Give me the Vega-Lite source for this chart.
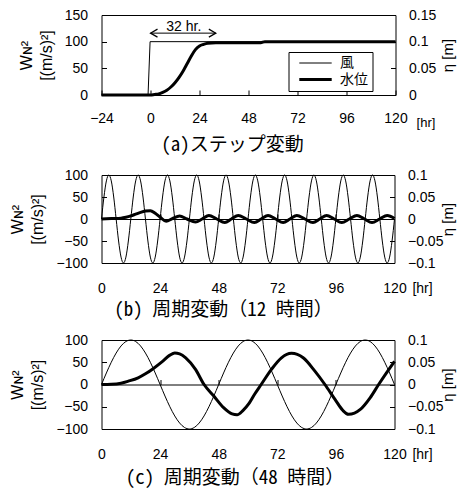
{
  "$schema": "https://vega.github.io/schema/vega-lite/v6.json",
  "background": "white",
  "padding": {"left": 8.5, "right": 5, "top": 7, "bottom": 0},
  "spacing": 11,
  "config": {
    "view": {"stroke": "black", "strokeWidth": 1},
    "axis": {
      "grid": false, "domain": false,
      "labelFont": "Liberation Sans", "labelFontSize": 14, "labelColor": "black",
      "tickColor": "black", "tickSize": -5, "labelOverlap": false,
      "titleFont": "Liberation Sans", "titleFontWeight": "normal", "titleColor": "black", "titleFontSize": 14
    },
    "title": {"font": "Noto Sans Mono CJK JP, Noto Sans CJK JP", "fontSize": 19, "fontWeight": "normal", "color": "black", "orient": "bottom", "anchor": "middle", "offset": 5}
  },
  "datasets": {
    "aw": [{"t": -24, "w": 0}, {"t": -1.2, "w": 0}, {"t": -0.2, "w": 100}, {"t": 120, "w": 100}],
    "ah": [{"t": -24, "h": 0}, {"t": 0, "h": 0}, {"t": 2, "h": 0.001}, {"t": 4, "h": 0.002}, {"t": 6, "h": 0.005}, {"t": 8, "h": 0.009}, {"t": 10, "h": 0.015}, {"t": 12, "h": 0.023}, {"t": 14, "h": 0.033}, {"t": 16, "h": 0.045}, {"t": 18, "h": 0.059}, {"t": 20, "h": 0.073}, {"t": 22, "h": 0.085}, {"t": 24, "h": 0.092}, {"t": 26, "h": 0.095}, {"t": 28, "h": 0.097}, {"t": 32, "h": 0.098}, {"t": 40, "h": 0.098}, {"t": 54, "h": 0.098}, {"t": 56, "h": 0.1}, {"t": 120, "h": 0.1}],
    "atext": [{"t": 16.3, "y": 120, "label": "32 hr."}],
    "arule": [{"t0": 0, "t1": 32, "y": 116}],
    "ahead": [{"t": 0, "y": 116, "dir": "L"}, {"t": 32, "y": 116, "dir": "R"}],
    "bw": [
      {"t": 0, "w": 0}, {"t": 1, "w": 50}, {"t": 2, "w": 86.6}, {"t": 3, "w": 100}, {"t": 4, "w": 86.6}, {"t": 5, "w": 50}, {"t": 6, "w": 0}, {"t": 7, "w": -50}, {"t": 8, "w": -86.6}, {"t": 9, "w": -100}, {"t": 10, "w": -86.6}, {"t": 11, "w": -50},
      {"t": 12, "w": 0}, {"t": 13, "w": 50}, {"t": 14, "w": 86.6}, {"t": 15, "w": 100}, {"t": 16, "w": 86.6}, {"t": 17, "w": 50}, {"t": 18, "w": 0}, {"t": 19, "w": -50}, {"t": 20, "w": -86.6}, {"t": 21, "w": -100}, {"t": 22, "w": -86.6}, {"t": 23, "w": -50},
      {"t": 24, "w": 0}, {"t": 25, "w": 50}, {"t": 26, "w": 86.6}, {"t": 27, "w": 100}, {"t": 28, "w": 86.6}, {"t": 29, "w": 50}, {"t": 30, "w": 0}, {"t": 31, "w": -50}, {"t": 32, "w": -86.6}, {"t": 33, "w": -100}, {"t": 34, "w": -86.6}, {"t": 35, "w": -50},
      {"t": 36, "w": 0}, {"t": 37, "w": 50}, {"t": 38, "w": 86.6}, {"t": 39, "w": 100}, {"t": 40, "w": 86.6}, {"t": 41, "w": 50}, {"t": 42, "w": 0}, {"t": 43, "w": -50}, {"t": 44, "w": -86.6}, {"t": 45, "w": -100}, {"t": 46, "w": -86.6}, {"t": 47, "w": -50},
      {"t": 48, "w": 0}, {"t": 49, "w": 50}, {"t": 50, "w": 86.6}, {"t": 51, "w": 100}, {"t": 52, "w": 86.6}, {"t": 53, "w": 50}, {"t": 54, "w": 0}, {"t": 55, "w": -50}, {"t": 56, "w": -86.6}, {"t": 57, "w": -100}, {"t": 58, "w": -86.6}, {"t": 59, "w": -50},
      {"t": 60, "w": 0}, {"t": 61, "w": 50}, {"t": 62, "w": 86.6}, {"t": 63, "w": 100}, {"t": 64, "w": 86.6}, {"t": 65, "w": 50}, {"t": 66, "w": 0}, {"t": 67, "w": -50}, {"t": 68, "w": -86.6}, {"t": 69, "w": -100}, {"t": 70, "w": -86.6}, {"t": 71, "w": -50},
      {"t": 72, "w": 0}, {"t": 73, "w": 50}, {"t": 74, "w": 86.6}, {"t": 75, "w": 100}, {"t": 76, "w": 86.6}, {"t": 77, "w": 50}, {"t": 78, "w": 0}, {"t": 79, "w": -50}, {"t": 80, "w": -86.6}, {"t": 81, "w": -100}, {"t": 82, "w": -86.6}, {"t": 83, "w": -50},
      {"t": 84, "w": 0}, {"t": 85, "w": 50}, {"t": 86, "w": 86.6}, {"t": 87, "w": 100}, {"t": 88, "w": 86.6}, {"t": 89, "w": 50}, {"t": 90, "w": 0}, {"t": 91, "w": -50}, {"t": 92, "w": -86.6}, {"t": 93, "w": -100}, {"t": 94, "w": -86.6}, {"t": 95, "w": -50},
      {"t": 96, "w": 0}, {"t": 97, "w": 50}, {"t": 98, "w": 86.6}, {"t": 99, "w": 100}, {"t": 100, "w": 86.6}, {"t": 101, "w": 50}, {"t": 102, "w": 0}, {"t": 103, "w": -50}, {"t": 104, "w": -86.6}, {"t": 105, "w": -100}, {"t": 106, "w": -86.6}, {"t": 107, "w": -50},
      {"t": 108, "w": 0}, {"t": 109, "w": 50}, {"t": 110, "w": 86.6}, {"t": 111, "w": 100}, {"t": 112, "w": 86.6}, {"t": 113, "w": 50}, {"t": 114, "w": 0}, {"t": 115, "w": -50}, {"t": 116, "w": -86.6}, {"t": 117, "w": -100}, {"t": 118, "w": -86.6}, {"t": 119, "w": -50},
      {"t": 120, "w": 0}
    ],
    "bh": [
      {"t": 0, "h": 0}, {"t": 4, "h": 0.001}, {"t": 8, "h": 0.002}, {"t": 10, "h": 0.004}, {"t": 12, "h": 0.007}, {"t": 14, "h": 0.011}, {"t": 16, "h": 0.015}, {"t": 18, "h": 0.018}, {"t": 20, "h": 0.019}, {"t": 22, "h": 0.013}, {"t": 24, "h": 0.004}, {"t": 26.5, "h": -0.005}, {"t": 29, "h": 0.001}, {"t": 32, "h": 0.007},
      {"t": 35, "h": 0}, {"t": 38.5, "h": -0.007}, {"t": 41.2, "h": 0}, {"t": 44, "h": 0.008}, {"t": 47.2, "h": 0}, {"t": 50.5, "h": -0.008}, {"t": 53.2, "h": 0}, {"t": 56, "h": 0.008}, {"t": 59.3, "h": 0}, {"t": 62.6, "h": -0.008}, {"t": 65.4, "h": 0}, {"t": 68.2, "h": 0.008},
      {"t": 71.3, "h": 0}, {"t": 74.4, "h": -0.008}, {"t": 77.2, "h": 0}, {"t": 80, "h": 0.008}, {"t": 83.3, "h": 0}, {"t": 86.6, "h": -0.008}, {"t": 89.4, "h": 0}, {"t": 92.2, "h": 0.008}, {"t": 95.3, "h": 0}, {"t": 98.4, "h": -0.008}, {"t": 101.5, "h": 0}, {"t": 104.6, "h": 0.008},
      {"t": 107.7, "h": 0}, {"t": 110.8, "h": -0.008}, {"t": 113.9, "h": 0}, {"t": 117, "h": 0.008}, {"t": 120, "h": 0.001}
    ],
    "cw": [
      {"t": 0, "w": 0}, {"t": 2, "w": 25.9}, {"t": 4, "w": 50}, {"t": 6, "w": 70.7}, {"t": 8, "w": 86.6}, {"t": 10, "w": 96.6}, {"t": 12, "w": 100}, {"t": 14, "w": 96.6}, {"t": 16, "w": 86.6}, {"t": 18, "w": 70.7}, {"t": 20, "w": 50}, {"t": 22, "w": 25.9},
      {"t": 24, "w": 0}, {"t": 26, "w": -25.9}, {"t": 28, "w": -50}, {"t": 30, "w": -70.7}, {"t": 32, "w": -86.6}, {"t": 34, "w": -96.6}, {"t": 36, "w": -100}, {"t": 38, "w": -96.6}, {"t": 40, "w": -86.6}, {"t": 42, "w": -70.7}, {"t": 44, "w": -50}, {"t": 46, "w": -25.9},
      {"t": 48, "w": 0}, {"t": 50, "w": 25.9}, {"t": 52, "w": 50}, {"t": 54, "w": 70.7}, {"t": 56, "w": 86.6}, {"t": 58, "w": 96.6}, {"t": 60, "w": 100}, {"t": 62, "w": 96.6}, {"t": 64, "w": 86.6}, {"t": 66, "w": 70.7}, {"t": 68, "w": 50}, {"t": 70, "w": 25.9},
      {"t": 72, "w": 0}, {"t": 74, "w": -25.9}, {"t": 76, "w": -50}, {"t": 78, "w": -70.7}, {"t": 80, "w": -86.6}, {"t": 82, "w": -96.6}, {"t": 84, "w": -100}, {"t": 86, "w": -96.6}, {"t": 88, "w": -86.6}, {"t": 90, "w": -70.7}, {"t": 92, "w": -50}, {"t": 94, "w": -25.9},
      {"t": 96, "w": 0}, {"t": 98, "w": 25.9}, {"t": 100, "w": 50}, {"t": 102, "w": 70.7}, {"t": 104, "w": 86.6}, {"t": 106, "w": 96.6}, {"t": 108, "w": 100}, {"t": 110, "w": 96.6}, {"t": 112, "w": 86.6}, {"t": 114, "w": 70.7}, {"t": 116, "w": 50}, {"t": 118, "w": 25.9},
      {"t": 120, "w": 0}
    ],
    "ch": [
      {"t": 0, "h": 0}, {"t": 4, "h": 0.0005}, {"t": 8, "h": 0.003}, {"t": 11, "h": 0.0075}, {"t": 15, "h": 0.015}, {"t": 18, "h": 0.024}, {"t": 21, "h": 0.035}, {"t": 25, "h": 0.052}, {"t": 28, "h": 0.066}, {"t": 30, "h": 0.071}, {"t": 32, "h": 0.069},
      {"t": 34.5, "h": 0.06}, {"t": 38.5, "h": 0.034}, {"t": 42, "h": 0}, {"t": 46, "h": -0.026}, {"t": 50, "h": -0.052}, {"t": 53.5, "h": -0.066}, {"t": 55.5, "h": -0.068}, {"t": 58, "h": -0.058}, {"t": 60.5, "h": -0.042}, {"t": 62.7, "h": -0.022},
      {"t": 65.4, "h": 0}, {"t": 69.6, "h": 0.034}, {"t": 73.7, "h": 0.06}, {"t": 77.8, "h": 0.07}, {"t": 82.6, "h": 0.06}, {"t": 87.4, "h": 0.03}, {"t": 91.5, "h": 0}, {"t": 95.7, "h": -0.034}, {"t": 98.8, "h": -0.058}, {"t": 101.2, "h": -0.067},
      {"t": 106, "h": -0.056}, {"t": 110, "h": -0.03}, {"t": 113.5, "h": 0}, {"t": 117.7, "h": 0.034}, {"t": 120, "h": 0.052}
    ]
  },
  "vconcat": [
    {
      "width": 294, "height": 80,
      "title": {"text": "(a)ステップ変動", "dx": -16, "offset": 7},
      "layer": [
        {
          "data": {"name": "aw"},
          "mark": {"type": "line", "color": "black"},
          "encoding": {
            "x": {"field": "t", "type": "quantitative", "scale": {"domain": [-24, 120], "nice": false},
              "axis": {"values": [-24, 0, 24, 48, 72, 96, 120], "labelPadding": 21, "title": "[hr]", "titleX": 324, "titleY": 27, "titleAlign": "center", "titleBaseline": "middle", "titleAngle": 0, "titleFontSize": 13, "labelFlush": false}},
            "y": {"field": "w", "type": "quantitative", "scale": {"domain": [0, 150], "nice": false},
              "axis": {"orient": "left", "values": [0, 50, 100, 150], "labelPadding": 19, "title": ["Wɴ²", "[(m/s)²]"], "titlePadding": 10, "titleFontSize": 16, "titleLineHeight": 20}},
            "strokeWidth": {"datum": "風", "type": "nominal", "scale": {"domain": ["風", "水位"], "range": [1, 3]},
              "legend": {"title": null, "orient": "none", "legendX": 187, "legendY": 37, "strokeColor": "black", "fillColor": "white", "padding": 4, "symbolType": "M -2.7 0 L 2.7 0", "symbolSize": 144, "symbolStrokeColor": "black", "symbolFillColor": "transparent", "symbolOffset": 15.5, "labelOffset": 17, "labelFont": "Noto Sans CJK JP", "labelFontSize": 14, "labelColor": "black", "rowPadding": 2, "cornerRadius": 0}}
          }
        },
        {
          "data": {"name": "ah"},
          "mark": {"type": "line", "color": "black", "interpolate": "monotone"},
          "encoding": {
            "x": {"field": "t", "type": "quantitative"},
            "y": {"field": "h", "type": "quantitative", "scale": {"domain": [0, 0.15], "nice": false},
              "axis": {"orient": "right", "values": [0, 0.05, 0.1, 0.15], "format": ".2~f", "labelPadding": 18, "title": "η [m]", "titleAngle": -90, "titleX": 52, "titleY": 40, "titleAlign": "center", "titleBaseline": "middle", "titleFontSize": 15}},
            "strokeWidth": {"datum": "水位", "type": "nominal"}
          }
        },
        {
          "data": {"name": "arule"},
          "mark": {"type": "rule", "color": "black", "strokeWidth": 1},
          "encoding": {
            "x": {"field": "t0", "type": "quantitative"},
            "x2": {"field": "t1"},
            "y": {"field": "y", "type": "quantitative", "scale": {"domain": [0, 150], "nice": false}, "axis": null}
          }
        },
        {
          "data": {"name": "ahead"},
          "mark": {"type": "point", "filled": false, "color": "black", "strokeWidth": 1.2, "size": 16, "opacity": 1},
          "encoding": {
            "x": {"field": "t", "type": "quantitative"},
            "y": {"field": "y", "type": "quantitative", "scale": {"domain": [0, 150], "nice": false}, "axis": null},
            "shape": {"field": "dir", "type": "nominal", "scale": {"domain": ["L", "R"], "range": ["M 3.5 -2 L 0 0 L 3.5 2", "M -3.5 -2 L 0 0 L -3.5 2"]}, "legend": null}
          }
        },
        {
          "data": {"name": "atext"},
          "mark": {"type": "text", "font": "Liberation Sans", "fontSize": 14, "color": "black", "baseline": "alphabetic", "align": "center"},
          "encoding": {
            "x": {"field": "t", "type": "quantitative"},
            "y": {"field": "y", "type": "quantitative", "scale": {"domain": [0, 150], "nice": false}, "axis": null},
            "text": {"field": "label"}
          }
        }
      ],
      "resolve": {"scale": {"y": "independent"}}
    },
    {
      "width": 293, "height": 88,
      "title": {"text": "(b) 周期変動（12 時間）", "dx": -24.5, "offset": 6},
      "layer": [
        {
          "data": {"name": "bw"},
          "mark": {"type": "line", "color": "black", "strokeWidth": 1, "interpolate": "monotone"},
          "encoding": {
            "x": {"field": "t", "type": "quantitative", "scale": {"domain": [0, 120], "nice": false},
              "axis": {"orient": "bottom", "values": [0, 24, 48, 72, 96, 120], "ticks": false, "labelPadding": 18, "title": "[hr]", "titleX": 320.5, "titleY": 25, "titleAlign": "center", "titleBaseline": "middle", "titleAngle": 0, "titleFontSize": 14, "labelFlush": false}},
            "y": {"field": "w", "type": "quantitative", "scale": {"domain": [-100, 100], "nice": false},
              "axis": {"orient": "left", "values": [-100, -50, 0, 50, 100], "labelPadding": 19, "title": ["Wɴ²", "[(m/s)²]"], "titlePadding": 10, "titleFontSize": 16, "titleLineHeight": 20}}
          }
        },
        {
          "data": {"name": "bh"},
          "mark": {"type": "line", "color": "black", "strokeWidth": 3, "interpolate": "monotone"},
          "encoding": {
            "x": {"field": "t", "type": "quantitative",
              "axis": {"orient": "top", "offset": -44, "labels": false, "values": [24, 48, 72, 96], "tickSize": 5, "domain": true, "domainColor": "black", "domainWidth": 1, "title": null}},
            "y": {"field": "h", "type": "quantitative", "scale": {"domain": [-0.1, 0.1], "nice": false},
              "axis": {"orient": "right", "values": [-0.1, -0.05, 0, 0.05, 0.1], "format": ".2~f", "labelPadding": 18, "title": "η [m]", "titleAngle": -90, "titleX": 53, "titleY": 44, "titleAlign": "center", "titleBaseline": "middle", "titleFontSize": 15}}
          }
        }
      ],
      "resolve": {"scale": {"y": "independent"}, "axis": {"x": "independent"}}
    },
    {
      "width": 293, "height": 89,
      "title": {"text": "(c) 周期変動（48 時間）", "dx": -13, "offset": 8},
      "layer": [
        {
          "data": {"name": "cw"},
          "mark": {"type": "line", "color": "black", "strokeWidth": 1, "interpolate": "monotone"},
          "encoding": {
            "x": {"field": "t", "type": "quantitative", "scale": {"domain": [0, 120], "nice": false},
              "axis": {"orient": "bottom", "values": [0, 24, 48, 72, 96, 120], "ticks": false, "labelPadding": 18, "title": "[hr]", "titleX": 320.5, "titleY": 25, "titleAlign": "center", "titleBaseline": "middle", "titleAngle": 0, "titleFontSize": 14, "labelFlush": false}},
            "y": {"field": "w", "type": "quantitative", "scale": {"domain": [-100, 100], "nice": false},
              "axis": {"orient": "left", "values": [-100, -50, 0, 50, 100], "labelPadding": 19, "title": ["Wɴ²", "[(m/s)²]"], "titlePadding": 10, "titleFontSize": 16, "titleLineHeight": 20}}
          }
        },
        {
          "data": {"name": "ch"},
          "mark": {"type": "line", "color": "black", "strokeWidth": 3, "interpolate": "monotone"},
          "encoding": {
            "x": {"field": "t", "type": "quantitative",
              "axis": {"orient": "top", "offset": -44.5, "labels": false, "values": [24, 48, 72, 96], "tickSize": 5, "domain": true, "domainColor": "black", "domainWidth": 1, "title": null}},
            "y": {"field": "h", "type": "quantitative", "scale": {"domain": [-0.1, 0.1], "nice": false},
              "axis": {"orient": "right", "values": [-0.1, -0.05, 0, 0.05, 0.1], "format": ".2~f", "labelPadding": 18, "title": "η [m]", "titleAngle": -90, "titleX": 53, "titleY": 44.5, "titleAlign": "center", "titleBaseline": "middle", "titleFontSize": 15}}
          }
        }
      ],
      "resolve": {"scale": {"y": "independent"}, "axis": {"x": "independent"}}
    }
  ]
}
